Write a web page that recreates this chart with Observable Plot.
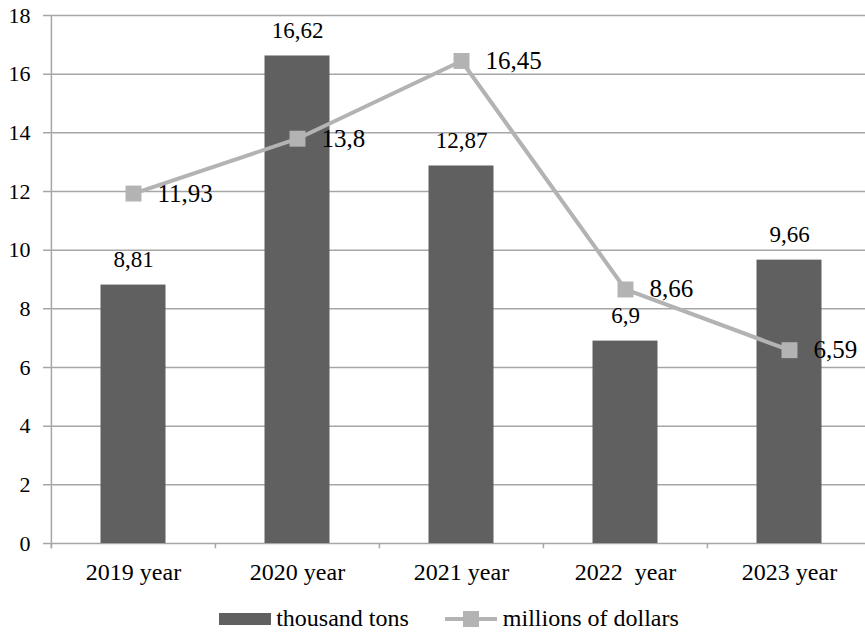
<!DOCTYPE html>
<html>
<head>
<meta charset="utf-8">
<script src="https://cdn.jsdelivr.net/npm/d3@7"></script>
<script src="https://cdn.jsdelivr.net/npm/@observablehq/plot@0.6"></script>
<style>
  html, body { margin: 0; padding: 0; background: #fff; }
  body { width: 865px; height: 633px; overflow: hidden; font-family: "Liberation Serif", serif; }
  #chart svg { display: block; overflow: visible; }
  .legend { display: flex; justify-content: center; align-items: center; height: 29px; padding-top: 14px; font-size: 24px; color: #000; margin-left: 33px; font-family: "Liberation Serif", serif; }
  .legend .item { display: flex; align-items: center; }
  .legend .item + .item { margin-left: 36px; }
  .sw-bar { width: 52px; height: 12px; background: #606060; margin-right: 5px; }
  .sw-line { position: relative; width: 52px; height: 16px; margin-right: 6px; }
  .sw-line::before { content: ""; position: absolute; left: 0; right: 0; top: 6px; height: 4px; background: #b3b3b3; }
  .sw-line::after { content: ""; position: absolute; left: 18px; top: 0; width: 16px; height: 16px; background: #b3b3b3; }
</style>
</head>
<body>
<div id="chart"></div>
<div class="legend">
  <div class="item"><div class="sw-bar"></div><span>thousand tons</span></div>
  <div class="item"><div class="sw-line"></div><span>millions of dollars</span></div>
</div>
<script>
const years = ["2019 year", "2020 year", "2021 year", "2022\u00a0 year", "2023 year"];
const thousandTons = [8.81, 16.62, 12.87, 6.9, 9.66];
const millionsDollars = [11.93, 13.8, 16.45, 8.66, 6.59];
const yTicks = [0, 2, 4, 6, 8, 10, 12, 14, 16, 18];

const fmt = v => String(v).replace(".", ",");
const bars = years.map((y, i) => ({year: y, value: thousandTons[i]}));
const line = years.map((y, i) => ({year: y, value: millionsDollars[i]}));

const serif = "'Liberation Serif', serif";
const bandW = 164.2;
const plot = Plot.plot({
  width: 865,
  height: 590,
  marginTop: 15,
  marginBottom: 47,
  marginLeft: 50,
  marginRight: -6,
  style: {fontFamily: serif, fontSize: "22px", color: "#000", background: "#fff"},
  x: {domain: years, padding: 0, label: null},
  y: {domain: [0, 18], label: null},
  marks: [
    Plot.ruleY(yTicks, {stroke: "#a6a6a6", strokeWidth: 1.5, insetLeft: -7}),
    Plot.barY(bars, {x: "year", y: "value", fill: "#606060", insetLeft: 49.5, insetRight: 49.5}),
    Plot.ruleX(years, {x: d => d, dx: -bandW / 2, y1: 0, y2: -0.18, stroke: "#a6a6a6", strokeWidth: 1.5}),
    Plot.ruleX([0], {x: () => years[0], dx: -bandW / 2, y1: -0.18, y2: 18, stroke: "#a6a6a6", strokeWidth: 1.5}),
    Plot.axisY({ticks: yTicks, tickSize: 0, tickPadding: 20, fontSize: 22, fontFamily: serif, label: null}),
    Plot.axisX({tickSize: 0, tickPadding: 19, fontSize: 24, fontFamily: serif, label: null}),
    Plot.text(bars, {x: "year", y: "value", text: d => fmt(d.value), lineAnchor: "bottom", dy: -18, fontSize: 23, fontFamily: serif}),
    Plot.line(line, {x: "year", y: "value", stroke: "#b3b3b3", strokeWidth: 4}),
    Plot.dot(line, {x: "year", y: "value", symbol: "square", r: 9, fill: "#b3b3b3", stroke: "none"}),
    Plot.text(line, {x: "year", y: "value", text: d => fmt(d.value), textAnchor: "start", dx: 24, dy: 0, fontSize: 25, fontFamily: serif})
  ]
});
document.getElementById("chart").appendChild(plot);
</script>
</body>
</html>
